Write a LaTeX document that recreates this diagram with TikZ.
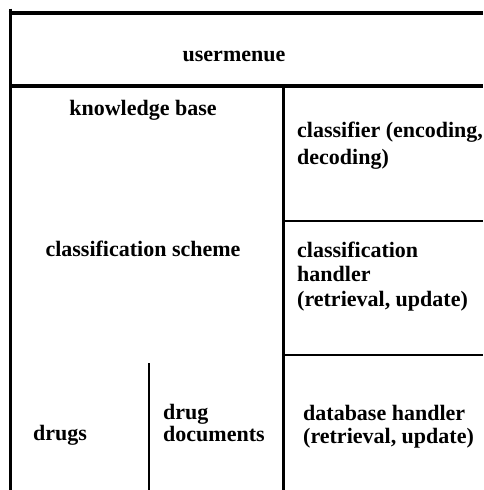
\documentclass[tikz,border=0pt]{standalone}
\usepackage{fontspec}
\setmainfont{Liberation Serif}
\usetikzlibrary{positioning}

\begin{document}
\begin{tikzpicture}[
  x=1pt, y=-1pt,
  wall/.style={line width=3.6pt},
  thinwall/.style={line width=2.4pt},
  every node/.style={font=\fontsize{22}{24.5}\selectfont\bfseries, inner sep=0pt, align=left}
]
\useasboundingbox (0,0) rectangle (483,490);

% --- Outer frame and main partitions ---
\draw[wall] (10.5,8.5) -- (10.5,490);
\draw[wall] (8.7,13) -- (483,13);
\draw[wall] (10.5,86) -- (483,86);
\draw[wall] (283.5,86) -- (283.5,490);

% --- Right column partitions ---
\draw[thinwall] (283.5,221) -- (483,221);
\draw[thinwall] (282,355) -- (483,355);

% --- Split of the lower left block ---
\draw[thinwall] (149,363) -- (149,490);

% --- Top row ---
\node[anchor=base] (menu) at (234,61.7) {usermenue};

% --- Left column ---
\node[anchor=base] (kbase) at (143,115.7) {knowledge base};
\node[anchor=base] (scheme) at (143,256) {classification scheme};
\node[anchor=base west] (drugs) at (33,440) {drugs};
\node[anchor=base west] (docs) at (163,441.7) {drug\\[-2.5pt]documents};

% --- Right column (base anchor sits on the last line) ---
\node[anchor=base west] (classifier) at (297,164) {classifier (encoding,\\[2.5pt]decoding)};
\node[anchor=base west] (handler) at (297,306) {classification\\handler\\(retrieval, update)};
\node[anchor=base west] (dbhandler) at (303,443) {database handler\\[-1.5pt](retrieval, update)};

\end{tikzpicture}
\end{document}
